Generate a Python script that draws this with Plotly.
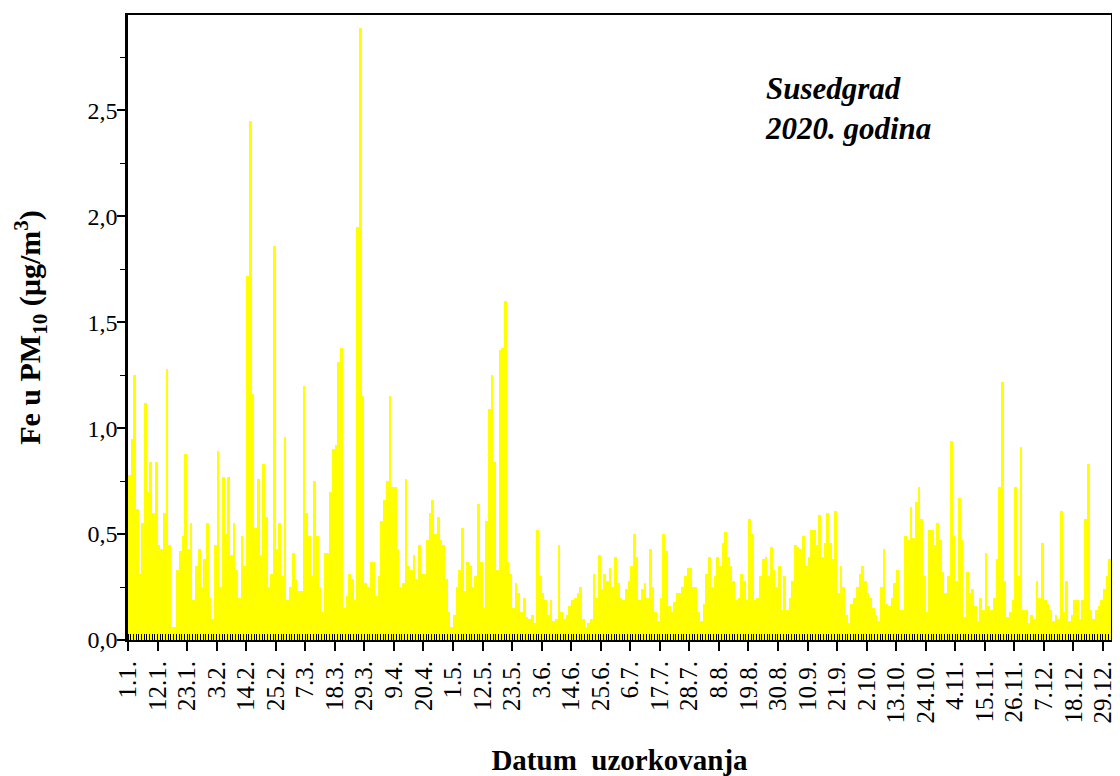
import plotly.graph_objects as go

# daily Fe in PM10 (ug/m3), Susedgrad 2020, one list per month
jan = [0.78, 0.95, 1.25, 0.62, 0.31, 0.55, 1.12, 0.70, 0.84, 0.60, 0.84, 0.45, 0.43, 0.60, 1.28, 0.45,
       0.06, 0.06, 0.33, 0.42, 0.49, 0.88, 0.43, 0.55, 0.19, 0.35, 0.43, 0.25, 0.38, 0.55, 0.20]
feb = [0.10, 0.45, 0.89, 0.25, 0.77, 0.50, 0.77, 0.40, 0.55, 0.33, 0.20, 0.49, 0.35, 1.72, 2.45, 1.16,
       0.53, 0.76, 0.40, 0.83, 0.58, 0.25, 0.31, 1.86, 0.43, 0.55, 0.30, 0.96, 0.19]
mar = [0.25, 0.41, 0.29, 0.23, 0.23, 1.20, 0.60, 0.49, 0.30, 0.75, 0.49, 0.25, 0.13, 0.41, 0.41, 0.70,
       0.90, 0.92, 1.31, 1.38, 0.15, 0.21, 0.31, 0.29, 0.19, 1.95, 2.89, 1.15, 0.27, 0.25, 0.37]
apr = [0.37, 0.21, 0.30, 0.56, 0.66, 0.75, 1.15, 0.72, 0.72, 0.43, 0.25, 0.27, 0.76, 0.35, 0.33, 0.40,
       0.29, 0.45, 0.31, 0.31, 0.47, 0.60, 0.66, 0.50, 0.58, 0.47, 0.45, 0.29, 0.13, 0.06]
may = [0.12, 0.25, 0.33, 0.53, 0.23, 0.37, 0.35, 0.25, 0.30, 0.64, 0.37, 0.15, 0.56, 1.09, 1.25, 0.84,
       0.33, 1.37, 1.38, 1.60, 0.37, 0.31, 0.15, 0.27, 0.22, 0.13, 0.20, 0.11, 0.10, 0.12, 0.08]
jun = [0.52, 0.30, 0.22, 0.19, 0.12, 0.19, 0.09, 0.10, 0.45, 0.13, 0.10, 0.12, 0.16, 0.19, 0.20, 0.22,
       0.25, 0.10, 0.06, 0.08, 0.10, 0.31, 0.20, 0.40, 0.24, 0.31, 0.28, 0.34, 0.25, 0.39]
jul = [0.27, 0.20, 0.19, 0.24, 0.28, 0.35, 0.50, 0.39, 0.19, 0.24, 0.27, 0.20, 0.43, 0.25, 0.13, 0.09,
       0.20, 0.50, 0.42, 0.16, 0.13, 0.18, 0.22, 0.22, 0.25, 0.30, 0.34, 0.34, 0.25, 0.25, 0.13]
aug = [0.09, 0.17, 0.31, 0.39, 0.25, 0.30, 0.39, 0.35, 0.46, 0.51, 0.39, 0.35, 0.28, 0.19, 0.20, 0.31,
       0.28, 0.19, 0.57, 0.50, 0.19, 0.20, 0.30, 0.38, 0.39, 0.30, 0.44, 0.33, 0.25, 0.35, 0.14]
sep = [0.30, 0.14, 0.20, 0.28, 0.45, 0.44, 0.43, 0.49, 0.35, 0.39, 0.52, 0.52, 0.45, 0.59, 0.39, 0.46,
       0.60, 0.46, 0.38, 0.61, 0.22, 0.35, 0.25, 0.12, 0.08, 0.17, 0.20, 0.25, 0.31, 0.35]
oct = [0.28, 0.22, 0.20, 0.15, 0.12, 0.09, 0.25, 0.43, 0.17, 0.16, 0.20, 0.27, 0.33, 0.14, 0.14, 0.49,
       0.47, 0.63, 0.48, 0.65, 0.72, 0.57, 0.30, 0.13, 0.52, 0.52, 0.45, 0.55, 0.47, 0.32, 0.22]
nov = [0.30, 0.94, 0.49, 0.28, 0.67, 0.47, 0.11, 0.32, 0.22, 0.24, 0.16, 0.09, 0.20, 0.14, 0.41, 0.16,
       0.14, 0.20, 0.38, 0.72, 1.22, 0.28, 0.11, 0.13, 0.19, 0.72, 0.30, 0.91, 0.14, 0.14]
dec = [0.08, 0.12, 0.10, 0.28, 0.20, 0.46, 0.19, 0.17, 0.14, 0.09, 0.12, 0.10, 0.61, 0.13, 0.28, 0.09,
       0.12, 0.19, 0.19, 0.10, 0.19, 0.57, 0.83, 0.14, 0.10, 0.14, 0.16, 0.19, 0.24, 0.30, 0.38]

fe = jan + feb + mar + apr + may + jun + jul + aug + sep + oct + nov + dec
days = list(range(1, len(fe) + 1))

tick_days = list(range(1, 366, 11))
tick_labels = ["1.1.", "12.1.", "23.1.", "3.2.", "14.2.", "25.2.", "7.3.", "18.3.", "29.3.",
               "9.4.", "20.4.", "1.5.", "12.5.", "23.5.", "3.6.", "14.6.", "25.6.", "6.7.",
               "17.7.", "28.7.", "8.8.", "19.8.", "30.8.", "10.9.", "21.9.", "2.10.", "13.10.",
               "24.10.", "4.11.", "15.11.", "26.11.", "7.12.", "18.12.", "29.12."]

y_ticks = [0, 0.5, 1.0, 1.5, 2.0, 2.5]

serif = "Liberation Serif"

fig = go.Figure()
fig.add_trace(go.Bar(x=days, y=fe, width=1, offset=0,
                     marker=dict(color="#ffff00", line=dict(width=0)),
                     showlegend=False))

# page body adds an 8px margin, so the figure is 8px smaller and margins shifted
fig.update_layout(
    width=1112, height=768,
    margin=dict(l=120, r=4, t=7, b=136),
    paper_bgcolor="white", plot_bgcolor="white",
    separators=",.",
    bargap=0,
    font=dict(family=serif, size=22, color="black"),
    xaxis=dict(range=[1, 367], tickmode="array", tickvals=tick_days, ticktext=tick_labels,
               tickangle=-90, ticks="outside", ticklen=9, tickwidth=1.5, tickcolor="black",
               showline=True, linecolor="black", linewidth=2, mirror=True,
               showgrid=False, zeroline=False, tickfont=dict(size=25),
               minor=dict(tickmode="linear", tick0=1, dtick=1, ticks="inside", ticklen=6,
                          tickwidth=1, tickcolor="black", showgrid=False),
               title=dict(text="<b>Datum  uzorkovanja</b>", font=dict(size=29), standoff=27)),
    yaxis=dict(range=[0, 2.95], tickmode="array", tickvals=y_ticks, tickformat=".1f",
               ticks="outside", ticklen=8, tickwidth=1.5, tickcolor="black",
               showline=True, linecolor="black", linewidth=2.5, mirror=True,
               showgrid=False, zeroline=False, tickfont=dict(size=24), ticklabelstandoff=-5,
               minor=dict(tickmode="linear", tick0=0.25, dtick=0.5, ticks="outside",
                          ticklen=5, tickwidth=1, tickcolor="black", showgrid=False),
               title=dict(text="<b>Fe u PM<sub>10</sub> (µg/m<sup>3</sup>)</b>",
                          font=dict(size=30), standoff=38)),
    annotations=[dict(text="<b><i>Susedgrad<br>2020. godina</i></b>", xref="paper", yref="paper",
                      x=0.646, y=0.913, xanchor="left", yanchor="top", align="left",
                      showarrow=False, font=dict(family=serif, size=31, color="black"))],
)

fig.write_html("out.html")
